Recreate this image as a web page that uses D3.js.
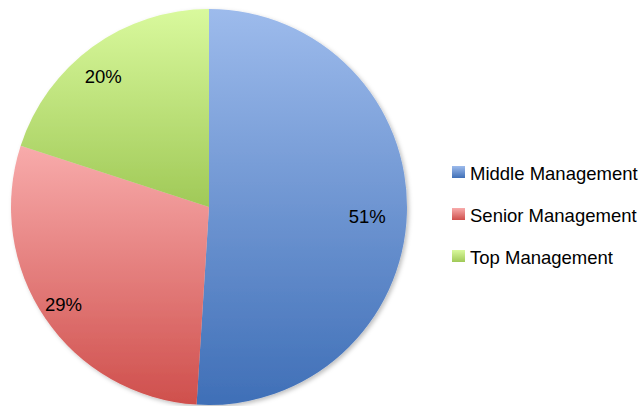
<!DOCTYPE html>
<html><head><meta charset="utf-8">
<script src="https://cdn.jsdelivr.net/npm/d3@7"></script>
<style>html,body{margin:0;padding:0;background:#fff;}svg{display:block;}</style>
</head><body>
<svg id="chart" width="644" height="406"></svg>
<script>
const categories = ["Middle Management", "Senior Management", "Top Management"];
const values = [51, 29, 20];
const labels = ["51%", "29%", "20%"];
const colorsTop = ["#9dbbec", "#f8abab", "#d9f99d"];
const colorsBottom = ["#3f6fb7", "#cf4f4c", "#a0c957"];

const svg = d3.select("#chart");
const cx = 209, cy = 207, r = 198;
const defs = svg.append("defs");

categories.forEach((c, i) => {
  const g = defs.append("linearGradient").attr("id", "grad" + i)
    .attr("x1", 0).attr("y1", 0).attr("x2", 0).attr("y2", 1);
  g.append("stop").attr("offset", "0%").attr("stop-color", colorsTop[i]);
  g.append("stop").attr("offset", "100%").attr("stop-color", colorsBottom[i]);
});
const f = defs.append("filter").attr("id", "shadow").attr("x", "-10%").attr("y", "-10%").attr("width", "130%").attr("height", "130%");
f.append("feDropShadow").attr("dx", 2).attr("dy", 2).attr("stdDeviation", 2).attr("flood-color", "#000").attr("flood-opacity", 0.25);

const pie = d3.pie().sort(null).value(d => d)(values);
const arc = d3.arc().innerRadius(0).outerRadius(r);
const labelArc = d3.arc().innerRadius(r * 0.84).outerRadius(r * 0.84);

const g = svg.append("g").attr("transform", `translate(${cx},${cy})`);
g.append("g").attr("filter", "url(#shadow)")
  .selectAll("path").data(pie).join("path")
  .attr("d", arc)
  .attr("fill", (d, i) => `url(#grad${i})`);

g.selectAll("text").data(pie).join("text")
  .attr("transform", d => { const [x, yy] = labelArc.centroid(d); return `translate(${x - 8},${yy + 4})`; })
  .attr("text-anchor", "middle").attr("dominant-baseline", "central")
  .attr("font-family", "Liberation Sans, Arial, sans-serif").attr("font-size", 18.5).attr("fill", "#000")
  .text((d, i) => labels[i]);

const y = d3.scalePoint().domain(categories).range([172, 256]);
const leg = svg.append("g").selectAll("g").data(categories).join("g")
  .attr("transform", d => `translate(452,${y(d)})`);
leg.append("rect").attr("x", 0).attr("y", -6).attr("width", 13).attr("height", 12)
  .attr("fill", (d, i) => `url(#grad${i})`);
leg.append("text").attr("x", 18).attr("y", 1).attr("dominant-baseline", "central")
  .attr("font-family", "Liberation Sans, Arial, sans-serif").attr("font-size", 18.5).attr("fill", "#000")
  .text(d => d);
</script>
</body></html>
